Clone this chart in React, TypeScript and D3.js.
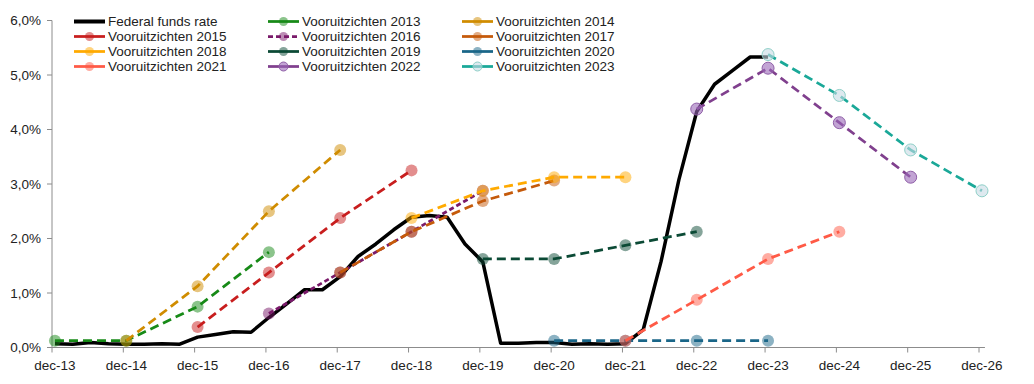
import React from "react";
import * as d3 from "d3";

const width = 1034;
const height = 384;
const plotLeft = 52;
const lastTickX = 979;
const plotTop = 20.5;
const plotBottom = 347.5;
const fontFamily = "'Liberation Sans', Arial, sans-serif";
const fontSize = 13.5;

// x categories: one label per december, months counted from dec-13
const yearLabels = ["dec-13", "dec-14", "dec-15", "dec-16", "dec-17", "dec-18", "dec-19",
  "dec-20", "dec-21", "dec-22", "dec-23", "dec-24", "dec-25", "dec-26"];
const yTicks = [0, 1, 2, 3, 4, 5, 6];

// effective federal funds rate, end of quarter (%)
const ffrQuarters = [
  "2013-12", "2014-03", "2014-06", "2014-09", "2014-12", "2015-03", "2015-06", "2015-09",
  "2015-12", "2016-03", "2016-06", "2016-09", "2016-12", "2017-03", "2017-06", "2017-09",
  "2017-12", "2018-03", "2018-06", "2018-09", "2018-12", "2019-03", "2019-06", "2019-09",
  "2019-12", "2020-03", "2020-06", "2020-09", "2020-12", "2021-03", "2021-06", "2021-09",
  "2021-12", "2022-03", "2022-06", "2022-09", "2022-12", "2023-03", "2023-06", "2023-09",
  "2023-12",
];
const ffrValues = [
  0.07, 0.06, 0.09, 0.07, 0.06, 0.06, 0.07, 0.06,
  0.19, 0.24, 0.29, 0.28, 0.55, 0.8, 1.06, 1.06,
  1.3, 1.67, 1.9, 2.16, 2.39, 2.42, 2.39, 1.9,
  1.57, 0.08, 0.08, 0.09, 0.09, 0.06, 0.07, 0.06,
  0.07, 0.33, 1.58, 3.08, 4.33, 4.83, 5.08, 5.33,
  5.33,
];

// fed projections (median), one value per december starting in the projection year
const projection2013 = [0.125, 0.125, 0.75, 1.75];
const projection2014 = [0.125, 1.125, 2.5, 3.625];
const projection2015 = [0.375, 1.375, 2.375, 3.25];
const projection2016 = [0.625, 1.375, 2.125, 2.875];
const projection2017 = [1.375, 2.125, 2.6875, 3.0625];
const projection2018 = [2.375, 2.875, 3.125, 3.125];
const projection2019 = [1.625, 1.625, 1.875, 2.125];
const projection2020 = [0.125, 0.125, 0.125, 0.125];
const projection2021 = [0.125, 0.875, 1.625, 2.125];
const projection2022 = [4.375, 5.125, 4.125, 3.125];
const projection2023 = [5.375, 4.625, 3.625, 2.875];

const projectionYears = [2013, 2014, 2015, 2016, 2017, 2018, 2019, 2020, 2021, 2022, 2023];
const projectionValues = [projection2013, projection2014, projection2015, projection2016,
  projection2017, projection2018, projection2019, projection2020, projection2021,
  projection2022, projection2023];

const lineColors = ["#178a17", "#d08c00", "#c81e1e", "#7a1a6a", "#c55a0a", "#ffaa00",
  "#0b4a35", "#1a6688", "#ff5a46", "#80408e", "#1aa898"];
const markerFills = ["#178a17", "#d08c00", "#c81e1e", "#7a1a6a", "#c55a0a", "#ffaa00",
  "#0b4a35", "#1a6688", "#ff5a46", "#9a68b8", "#c8dae4"];
const markerStrokes = ["none", "none", "none", "none", "none", "none",
  "none", "none", "none", "#9060a8", "#8fd0c8"];

const monthIndex = (s: string) => {
  const [y, m] = s.split("-").map(Number);
  return (y - 2013) * 12 + (m - 12);
};

const x = d3.scaleLinear().domain([0, 156]).range([plotLeft, lastTickX]);
const y = d3.scaleLinear().domain([0, 6]).range([plotBottom, plotTop]);
const plotRight = x(157);
// excel date axis: points sit in the middle of their month
const xm = (m: number) => x(m + 0.5);
const pct = (d: number) => d3.format(".1f")(d).replace(".", ",") + "%";

const line = d3.line<[number, number]>().x(d => xm(d[0])).y(d => y(d[1]));

const ffrPoints: [number, number][] = ffrQuarters.map((q, i) => [monthIndex(q), ffrValues[i]]);

const series = projectionYears.map((yr, i) => ({
  name: `Vooruitzichten ${yr}`,
  points: projectionValues[i].map((v, j) => [(yr - 2013 + j) * 12, v] as [number, number]),
  color: lineColors[i],
  fill: markerFills[i],
  stroke: markerStrokes[i],
  dash: yr === 2016 ? "5,3" : "9,5",
}));

const legendItems = [{ name: "Federal funds rate", color: "#000", fill: "", stroke: "", dash: "" }, ...series];

const App = () => (
  <svg width={width} height={height} style={{ position: "absolute", left: 0, top: 0 }}
    fontFamily={fontFamily}>
    <rect width={width} height={height} fill="#fff" />

    {/* y axis */}
    <line x1={plotLeft} x2={plotLeft} y1={plotTop} y2={plotBottom} stroke="#8c8c8c" />
    {yTicks.map(t => (
      <g key={t} transform={`translate(0,${y(t)})`}>
        <line x1={plotLeft - 5} x2={plotLeft} stroke="#8c8c8c" />
        <text x={plotLeft - 11} dy="0.35em" textAnchor="end" fontSize={fontSize} fill="#222">{pct(t)}</text>
      </g>
    ))}

    {/* x axis */}
    <line x1={plotLeft} x2={plotRight} y1={plotBottom} y2={plotBottom} stroke="#8c8c8c" />
    {yearLabels.map((lab, i) => (
      <g key={lab}>
        <line x1={x(i * 12)} x2={x(i * 12)} y1={plotBottom} y2={plotBottom + 5} stroke="#8c8c8c" />
        <text x={xm(i * 12)} y={plotBottom + 18} dy="0.35em" textAnchor="middle" fontSize={fontSize} fill="#222">{lab}</text>
      </g>
    ))}

    <path d={line(ffrPoints) ?? ""} fill="none" stroke="#000" strokeWidth={3.5} strokeLinejoin="round" />

    {series.map(s => (
      <g key={s.name}>
        <path d={line(s.points) ?? ""} fill="none" stroke={s.color} strokeWidth={2.75} strokeDasharray={s.dash} />
        {s.points.map((p, j) => (
          <circle key={j} cx={xm(p[0])} cy={y(p[1])} r={6} fill={s.fill} fillOpacity={s.stroke === "none" ? 0.5 : 0.6}
            stroke={s.stroke} strokeWidth={1} />
        ))}
      </g>
    ))}

    {/* legend */}
    {legendItems.map((item, i) => {
      const col = i % 3;
      const row = Math.floor(i / 3);
      const lx = 74 + col * 194;
      const ly = 21.5 + row * 15;
      return (
        <g key={item.name} transform={`translate(${lx},${ly})`}>
          <line x1={0} x2={31} stroke={item.color} strokeWidth={i === 0 ? 4 : 2.75}
            strokeDasharray={item.dash === "5,3" ? "5,3" : undefined} />
          {i > 0 && (
            <circle cx={15.5} r={4.5} fill={item.fill} fillOpacity={item.stroke === "none" ? 0.5 : 0.6}
              stroke={item.stroke} strokeWidth={1} />
          )}
          <text x={34} dy="0.35em" fontSize={fontSize} fill="#222">{item.name}</text>
        </g>
      );
    })}
  </svg>
);

export default App;
